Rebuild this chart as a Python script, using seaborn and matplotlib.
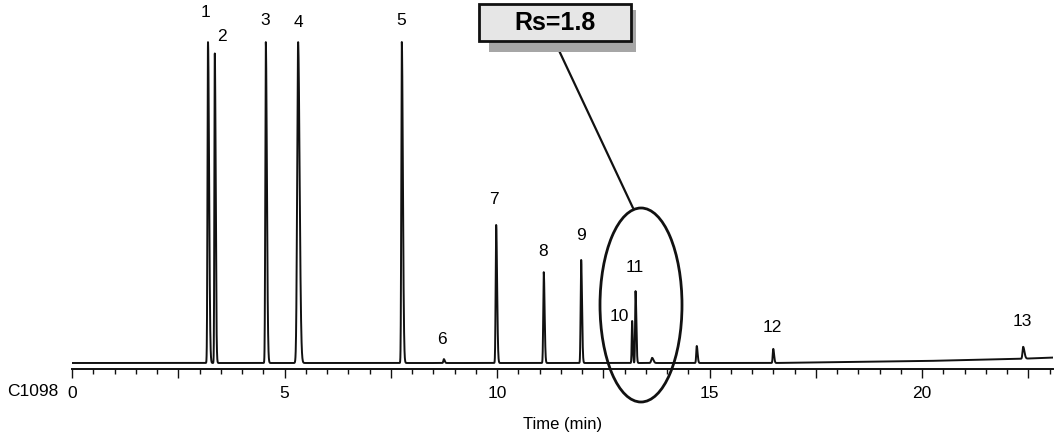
import matplotlib
matplotlib.use("Agg")
import matplotlib.pyplot as plt
from matplotlib.patches import Ellipse, Rectangle
from matplotlib.ticker import MultipleLocator, FuncFormatter
import numpy as np
import seaborn as sns

# Peak table (time in min, height in % of full scale)
peak_times = [3.20, 3.36, 4.56, 5.32, 7.76, 8.75, 9.98, 11.10, 11.98, 13.18, 13.26, 13.65, 14.70, 16.50, 22.38]
peak_heights = [100, 96.6, 100, 100, 100, 1.2, 43.0, 28.3, 32.1, 13.1, 22.4, 1.6, 5.3, 4.4, 3.7]
peak_sigma_left = [0.012, 0.010, 0.012, 0.022, 0.012, 0.012, 0.012, 0.012, 0.012, 0.010, 0.010, 0.02, 0.012, 0.012, 0.015]
peak_sigma_right = [0.025, 0.020, 0.025, 0.035, 0.025, 0.02, 0.022, 0.020, 0.020, 0.015, 0.018, 0.03, 0.02, 0.02, 0.03]

# baseline drift anchors (time, level)
drift_times = [0, 16.5, 20, 22.3, 23.1]
drift_levels = [0, 0, 0.6, 1.3, 1.7]

peak_labels = ['1', '2', '3', '4', '5', '6', '7', '8', '9', '10', '11', '12', '13']
label_x = [3.13, 3.53, 4.54, 5.32, 7.74, 8.71, 9.93, 11.08, 11.98, 12.87, 13.25, 16.47, 22.35]
label_y = [109.3, 101.6, 106.8, 106.2, 106.8, 7.2, 50.8, 34.6, 39.6, 14.6, 29.6, 11.2, 12.8]

t = np.linspace(0, 23.1, 12000)
signal = np.interp(t, drift_times, drift_levels)
for t0, h, sl, sr in zip(peak_times, peak_heights, peak_sigma_left, peak_sigma_right):
    s = np.where(t < t0, sl, sr)
    signal = signal + h * np.exp(-(t - t0) ** 2 / (2 * s ** 2))
signal = np.minimum(signal, 100)  # detector off-scale

sns.set_style('white')
plt.rcParams['font.family'] = ['Liberation Sans', 'DejaVu Sans']
plt.rcParams['text.color'] = 'black'
plt.rcParams['xtick.color'] = 'black'
plt.rcParams['axes.labelcolor'] = 'black'

fig = plt.figure(figsize=(10.55, 4.37), dpi=100)
ax = fig.add_axes([72 / 1055, 68 / 437, 981 / 1055, 369 / 437])

sns.lineplot(x=t, y=signal, ax=ax, color='#111111', linewidth=1.4, estimator=None)

k = 100 / 321
ax.set_xlim(0, 981 / 42.5)
ax.set_ylim(-6 * k, 363 * k)

for s in ['top', 'left', 'right']:
    ax.spines[s].set_visible(False)
ax.spines['bottom'].set_linewidth(1.4)
ax.spines['bottom'].set_color('#111111')
ax.set_yticks([])
ax.xaxis.set_major_locator(MultipleLocator(2.5))
ax.xaxis.set_minor_locator(MultipleLocator(0.5))
ax.xaxis.set_major_formatter(FuncFormatter(lambda v, p: f'{v:.0f}' if abs(v % 5) < 1e-6 else ''))
ax.tick_params(axis='x', which='major', direction='out', length=6.5, width=1, color='#111111',
               labelsize=12.5, pad=5.5, bottom=True)
ax.tick_params(axis='x', which='minor', direction='out', length=3.6, width=1, color='#111111', bottom=True)
ax.set_xlabel('Time (min)', fontsize=12, labelpad=12)

for lab, x, y in zip(peak_labels, label_x, label_y):
    ax.text(x, y, lab, ha='center', va='center', fontsize=12.5, clip_on=False)

fig.text(33 / 1055, 1 - 392 / 437, 'C1098', ha='center', va='center', fontsize=12.5)

# resolution callout
ell = Ellipse(((641 - 72) / 42.5, (363 - 305) * k), 82 / 42.5, 194 * k, fill=False,
              edgecolor='#111111', linewidth=2, clip_on=False)
ax.add_patch(ell)
ax.plot([(555 - 72) / 42.5, (633 - 72) / 42.5], [(363 - 42) * k, (363 - 208) * k],
        color='#111111', linewidth=1.6, clip_on=False)

W, H = 1055, 437
fig.add_artist(Rectangle((489 / W, 1 - 52 / H), 147 / W, 42 / H, transform=fig.transFigure,
                         facecolor='#a6a6a6', edgecolor='none'))
fig.add_artist(Rectangle((479 / W, 1 - 41 / H), 152 / W, 37 / H, transform=fig.transFigure,
                         facecolor='#e6e6e6', edgecolor='#111111', linewidth=2))
fig.text(555 / W, 1 - 23 / H, 'Rs=1.8', ha='center', va='center', fontsize=18, fontweight='bold')

fig.savefig('out.png', dpi=100)
